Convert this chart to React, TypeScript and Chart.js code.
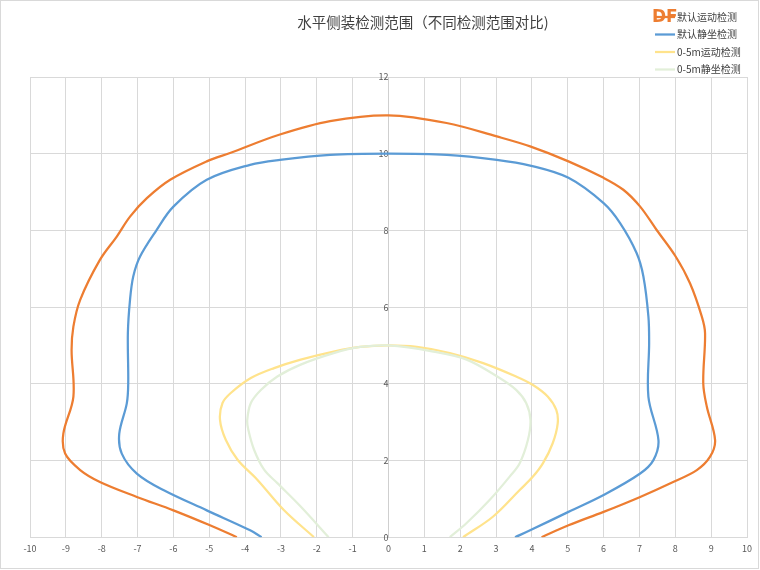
import React, { useEffect, useRef } from "react";
import { Chart, registerables } from "chart.js";

Chart.register(...registerables);

const TITLE = "水平侧装检测范围（不同检测范围对比)";
const SERIES_NAMES = ["默认运动检测", "默认静坐检测", "0-5m运动检测", "0-5m静坐检测"];
const COLORS = ["#ED7D31", "#5B9BD5", "#FFE38C", "#E2EFD9"];

const X_TICKS = [-10, -9, -8, -7, -6, -5, -4, -3, -2, -1, 0, 1, 2, 3, 4, 5, 6, 7, 8, 9, 10];
const Y_TICKS = [0, 2, 4, 6, 8, 10, 12];

const motionDefaultX = [-4.23, -4.98, -6.0, -7.02, -8.05, -8.6, -9.02, -9.07, -8.79, -8.84, -8.79, -8.6, -8.05, -7.58, -7.21, -6.74, -6.09, -5.07, -4.42, -3.03, -1.63, 0, 1.62, 3.02, 3.95, 5.02, 6.0, 6.55, 7.02, 7.48, 8.01, 8.41, 8.74, 8.83, 8.78, 8.88, 9.11, 8.97, 8.6, 7.94, 7.02, 6.0, 5.02, 4.27];
const motionDefaultY = [0, 0.31, 0.7, 1.05, 1.44, 1.75, 2.18, 2.7, 3.66, 4.88, 5.49, 6.19, 7.23, 7.84, 8.36, 8.84, 9.32, 9.8, 10.02, 10.5, 10.85, 11.0, 10.8, 10.45, 10.19, 9.8, 9.37, 9.06, 8.62, 8.01, 7.32, 6.62, 5.75, 5.32, 4.01, 3.4, 2.53, 2.1, 1.75, 1.44, 1.05, 0.66, 0.31, 0];

const staticDefaultX = [-3.54, -3.86, -5.07, -6.28, -7.02, -7.44, -7.51, -7.3, -7.26, -7.27, -7.21, -7.12, -6.93, -6.47, -6.0, -5.07, -3.86, -3.03, -1.63, 0, 1.63, 3.02, 3.95, 5.02, 6.0, 6.46, 6.92, 7.11, 7.25, 7.27, 7.25, 7.53, 7.39, 7.02, 6.0, 5.02, 3.95, 3.53];
const staticDefaultY = [0, 0.18, 0.7, 1.23, 1.66, 2.18, 2.7, 3.49, 4.01, 5.32, 6.19, 6.8, 7.32, 8.01, 8.62, 9.32, 9.71, 9.84, 9.97, 10, 9.97, 9.84, 9.69, 9.37, 8.71, 8.19, 7.41, 6.8, 5.75, 5.06, 3.66, 2.53, 2.01, 1.66, 1.1, 0.66, 0.18, 0];

const motion5X = [-2.08, -2.92, -3.66, -4.21, -4.54, -4.7, -4.63, -4.4, -3.84, -3.19, -2.45, -1.53, -0.79, 0, 0.79, 1.71, 2.64, 3.56, 4.03, 4.44, 4.68, 4.72, 4.58, 4.31, 4.03, 3.66, 2.92, 2.08];
const motion5Y = [0, 0.71, 1.5, 2.02, 2.54, 3.06, 3.5, 3.76, 4.15, 4.41, 4.63, 4.84, 4.96, 5.0, 4.96, 4.8, 4.54, 4.19, 3.97, 3.67, 3.32, 2.97, 2.45, 1.93, 1.58, 1.23, 0.54, 0];

const static5X = [-1.67, -2.45, -3.1, -3.47, -3.75, -3.91, -3.94, -3.84, -3.56, -3.1, -2.45, -1.53, -0.79, 0, 1.25, 2.18, 3.1, 3.56, 3.84, 3.96, 3.89, 3.66, 3.38, 2.82, 2.18, 1.71];
const static5Y = [0, 0.8, 1.41, 1.76, 2.28, 2.8, 3.06, 3.5, 3.84, 4.19, 4.5, 4.8, 4.96, 5, 4.84, 4.63, 4.15, 3.84, 3.5, 3.06, 2.54, 1.93, 1.58, 0.97, 0.37, 0];

const toPoints = (xs: number[], ys: number[]) => xs.map((x, i) => ({ x, y: ys[i] }));

const FONT = '"Noto Sans CJK SC", "Microsoft YaHei", "DejaVu Sans", sans-serif';

const decorPlugin = {
  id: "decor",
  beforeDraw(chart: any) {
    const ctx = chart.ctx;
    ctx.save();
    ctx.fillStyle = "#ffffff";
    ctx.fillRect(0, 0, chart.width, chart.height);
    ctx.strokeStyle = "#d9d9d9";
    ctx.lineWidth = 1;
    ctx.strokeRect(0.5, 0.5, chart.width - 2, chart.height - 2);
    ctx.restore();
  },
  afterDraw(chart: any) {
    const ctx = chart.ctx;
    ctx.save();
    ctx.fillStyle = "#404040";
    ctx.font = `14.5px ${FONT}`;
    ctx.textAlign = "center";
    ctx.textBaseline = "middle";
    ctx.fillText(TITLE, 423, 22);
    ctx.font = `10px ${FONT}`;
    ctx.textAlign = "left";
    chart.data.datasets.forEach((ds: any, i: number) => {
      const y = 17 + i * 17.5;
      ctx.strokeStyle = ds.borderColor;
      ctx.lineWidth = 2.25;
      ctx.beginPath();
      ctx.moveTo(655, y);
      ctx.lineTo(675, y);
      ctx.stroke();
      ctx.fillStyle = "#404040";
      ctx.fillText(ds.label, 677, y);
    });
    ctx.fillStyle = "#ED7D31";
    ctx.font = `bold 17px "DejaVu Sans", sans-serif`;
    ctx.textAlign = "left";
    ctx.fillText("DF", 652, 18);
    ctx.restore();
  },
};

export default function App() {
  const ref = useRef<HTMLCanvasElement | null>(null);
  useEffect(() => {
    document.body.style.margin = "0";
    if (!ref.current) return;
    const sets = [
      toPoints(motionDefaultX, motionDefaultY),
      toPoints(staticDefaultX, staticDefaultY),
      toPoints(motion5X, motion5Y),
      toPoints(static5X, static5Y),
    ];
    const chart = new Chart(ref.current, {
      type: "scatter",
      data: {
        datasets: sets.map((data, i) => ({
          label: SERIES_NAMES[i],
          data,
          showLine: true,
          borderColor: COLORS[i],
          backgroundColor: COLORS[i],
          borderWidth: 2.25,
          pointRadius: 0,
          tension: 0.35,
          fill: false,
          order: 3 - i,
        })),
      },
      plugins: [decorPlugin],
      options: {
        animation: false,
        responsive: false,
        maintainAspectRatio: false,
        layout: { padding: { top: 77, left: 30, right: 13, bottom: 10 } },
        plugins: { legend: { display: false }, title: { display: false }, tooltip: { enabled: false } },
        scales: {
          x: {
            type: "linear",
            min: -10,
            max: 10,
            afterBuildTicks: (axis: any) => {
              axis.ticks = X_TICKS.map((v) => ({ value: v }));
            },
            grid: { color: "#d9d9d9", lineWidth: 1, drawTicks: false },
            border: { color: "#d9d9d9", width: 1 },
            ticks: { color: "#595959", font: { size: 9, family: FONT }, padding: 6, maxRotation: 0 },
          },
          y: {
            type: "linear",
            min: 0,
            max: 12,
            position: { x: 0 },
            afterBuildTicks: (axis: any) => {
              axis.ticks = Y_TICKS.map((v) => ({ value: v }));
            },
            grid: { color: "#d9d9d9", lineWidth: 1, drawTicks: false },
            border: { color: "#cfcfcf", width: 1 },
            ticks: { color: "#595959", font: { size: 9, family: FONT }, padding: 6 },
          },
        },
      } as any,
    });
    return () => chart.destroy();
  }, []);
  return (
    <div style={{ position: "absolute", left: 0, top: 0, width: 760, height: 570 }}>
      <canvas ref={ref} width={760} height={570} style={{ width: 760, height: 570 }} />
    </div>
  );
}
